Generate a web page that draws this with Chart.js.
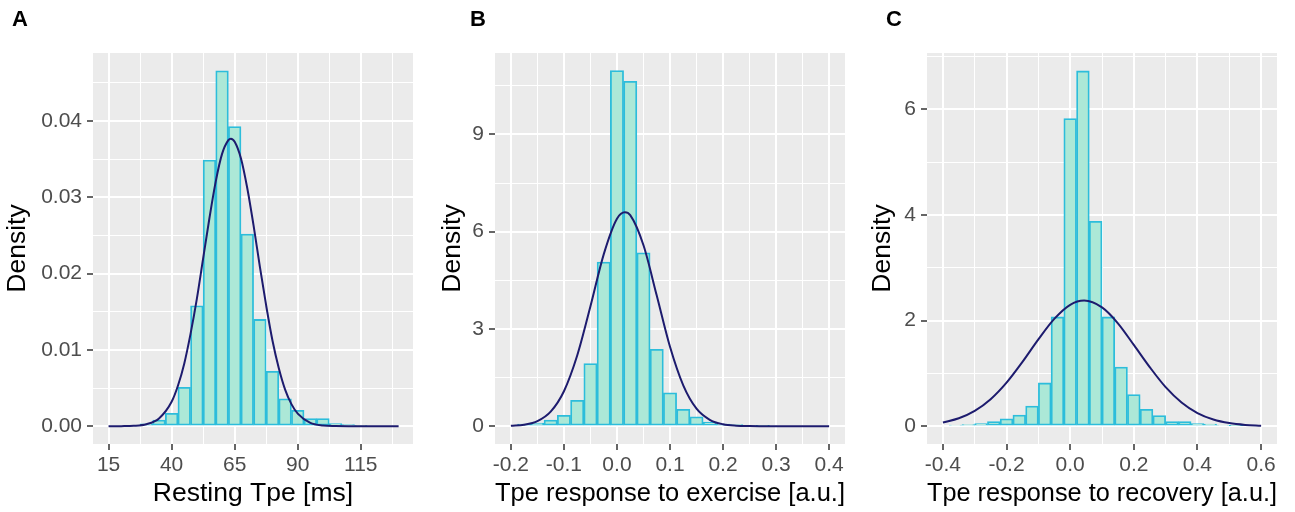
<!DOCTYPE html>
<html>
<head>
<meta charset="utf-8">
<script src="https://cdn.jsdelivr.net/npm/chart.js@4.4.0/dist/chart.umd.min.js"></script>
<style>
  body { margin: 0; background: #ffffff; }
  #wrap { position: relative; width: 1295px; height: 512px; overflow: hidden; }
  canvas { position: absolute; top: 0; }
  .tag { position: absolute; top: 8px; font: bold 22px 'Liberation Sans', Arial, sans-serif; color: #000; line-height: 22px; }
</style>
</head>
<body>
<div id="wrap">
  <canvas id="chartA" width="430" height="512" style="left:0px"></canvas>
  <canvas id="chartB" width="427" height="512" style="left:435px"></canvas>
  <canvas id="chartC" width="430" height="512" style="left:865px"></canvas>
  <div class="tag" style="left:12px">A</div>
  <div class="tag" style="left:470px">B</div>
  <div class="tag" style="left:886px">C</div>
</div>
<script>
// ---- panel A : resting Tpe ----
const binsA  = [30, 35, 40, 45, 50, 55, 60, 65, 70, 75, 80, 85, 90, 95, 100, 105, 110, 115];
const densA  = [0.0003, 0.0008, 0.0017, 0.0051, 0.0158, 0.0349, 0.0466, 0.0393, 0.0252, 0.0140,
                0.0072, 0.0036, 0.0021, 0.0010, 0.0010, 0.00035, 0.0002, 0.0001];
const curveXA = [15, 20, 25, 30, 35, 40, 42.5, 45, 47.5, 50, 52.5, 55, 57.5, 60, 62.5, 63.5, 65,
                 67.5, 70, 72.5, 75, 77.5, 80, 82.5, 85, 87.5, 90, 95, 100, 105, 110, 120, 130];
const curveYA = [0, 0.00001, 0.00005, 0.00026, 0.00102, 0.0032, 0.0053, 0.0082, 0.0121, 0.0167,
                 0.0220, 0.0273, 0.0321, 0.0357, 0.0375, 0.0377, 0.0373, 0.0351, 0.0312, 0.0263,
                 0.0209, 0.0158, 0.0112, 0.0076, 0.0048, 0.0029, 0.00166, 0.00045, 0.0001,
                 0.00002, 0, 0, 0];
const xMajorA = [15, 40, 65, 90, 115];
const xLabelsA = ['15', '40', '65', '90', '115'];
const xMinorA = [27.5, 52.5, 77.5, 102.5, 127.5];
const yMajorA = [0, 0.01, 0.02, 0.03, 0.04];
const yLabelsA = ['0.00', '0.01', '0.02', '0.03', '0.04'];
const yMinorA = [0.005, 0.015, 0.025, 0.035, 0.045];

// ---- panel B : response to exercise ----
const binsB = [-0.175, -0.15, -0.125, -0.1, -0.075, -0.05, -0.025, 0, 0.025, 0.05, 0.075, 0.1,
               0.125, 0.15, 0.175, 0.2, 0.225, 0.25, 0.275];
const densB = [0.07, 0.10, 0.19, 0.34, 0.80, 1.93, 5.06, 10.97, 10.64, 5.35, 2.37, 1.03,
               0.52, 0.29, 0.13, 0.07, 0.05, 0.03, 0.02];
const curveXB = [-0.2, -0.175, -0.15, -0.125, -0.1, -0.075, -0.05, -0.025, 0, 0.015, 0.025, 0.05,
                 0.075, 0.1, 0.125, 0.15, 0.175, 0.2, 0.225, 0.25, 0.275, 0.3, 0.35, 0.4];
const curveYB = [0.012, 0.047, 0.158, 0.45, 1.08, 2.18, 3.70, 5.30, 6.40, 6.60, 6.51, 5.58,
                 4.03, 2.45, 1.26, 0.54, 0.198, 0.06, 0.016, 0.004, 0.001, 0, 0, 0];
const xMajorB = [-0.2, -0.1, 0, 0.1, 0.2, 0.3, 0.4];
const xLabelsB = ['-0.2', '-0.1', '0.0', '0.1', '0.2', '0.3', '0.4'];
const xMinorB = [-0.15, -0.05, 0.05, 0.15, 0.25, 0.35];
const yMajorB = [0, 3, 6, 9];
const yLabelsB = ['0', '3', '6', '9'];
const yMinorB = [1.5, 4.5, 7.5, 10.5];

// ---- panel C : response to recovery ----
const binsC = [-0.36, -0.32, -0.28, -0.24, -0.2, -0.16, -0.12, -0.08, -0.04, 0, 0.04, 0.08,
               0.12, 0.16, 0.2, 0.24, 0.28, 0.32, 0.36, 0.4, 0.44, 0.48, 0.52, 0.56];
const densC = [0.02, 0.03, 0.05, 0.09, 0.14, 0.21, 0.38, 0.82, 2.07, 5.83, 6.73, 3.88,
               2.07, 1.12, 0.60, 0.32, 0.20, 0.09, 0.09, 0.05, 0.04, 0.02, 0.01, 0.01];
const curveXC = [-0.4, -0.35, -0.3, -0.25, -0.2, -0.15, -0.1, -0.05, 0, 0.044, 0.1, 0.15, 0.2,
                 0.25, 0.3, 0.35, 0.4, 0.45, 0.5, 0.55, 0.6];
const curveYC = [0.071, 0.150, 0.290, 0.511, 0.825, 1.218, 1.645, 2.033, 2.30, 2.38, 2.25, 1.95,
                 1.54, 1.12, 0.74, 0.45, 0.249, 0.127, 0.059, 0.025, 0.010];
const xMajorC = [-0.4, -0.2, 0, 0.2, 0.4, 0.6];
const xLabelsC = ['-0.4', '-0.2', '0.0', '0.2', '0.4', '0.6'];
const xMinorC = [-0.3, -0.1, 0.1, 0.3, 0.5];
const yMajorC = [0, 2, 4, 6];
const yLabelsC = ['0', '2', '4', '6'];
const yMinorC = [1, 3, 5, 7];

Chart.defaults.font.family = "'Liberation Sans', Arial, sans-serif";

const panelBg = {
  id: 'panelBg',
  beforeDraw(chart) {
    const { ctx, chartArea: a } = chart;
    ctx.save();
    ctx.fillStyle = '#ebebeb';
    ctx.fillRect(a.left, a.top, a.right - a.left, a.bottom - a.top);
    ctx.restore();
  }
};

function axis(major, labels, minor, range, title, size, horizontal) {
  const all = major.concat(minor).sort((a, b) => a - b);
  const idx = v => major.findIndex(m => Math.abs(m - v) < 1e-9);
  return {
    type: 'linear',
    min: range[0],
    max: range[1],
    offset: false,
    afterBuildTicks: s => { s.ticks = all.map(v => ({ value: v })); },
    afterFit: s => { if (horizontal) s.height = size; else s.width = size; },
    border: { display: false },
    grid: {
      offset: false,
      color: '#ffffff',
      lineWidth: c => idx(c.tick.value) >= 0 ? 2 : 1,
      tickColor: c => idx(c.tick.value) >= 0 ? '#333333' : 'rgba(0,0,0,0)',
      tickLength: 6,
      tickWidth: 1.5
    },
    ticks: {
      autoSkip: false,
      maxRotation: 0,
      padding: horizontal ? 3 : 5,
      color: '#4d4d4d',
      font: { size: 21 },
      callback: v => { const i = idx(v); return i < 0 ? '' : labels[i]; }
    },
    title: {
      display: true,
      text: title,
      color: '#000000',
      font: { size: 26.5 },
      padding: horizontal ? { top: 0, bottom: 2 } : { top: 2, bottom: 0 }
    }
  };
}

function makePanel(id, bins, dens, cx, cy, xAxis, yAxis, padRight) {
  new Chart(document.getElementById(id), {
    type: 'bar',
    data: {
      datasets: [
        {
          type: 'line',
          order: 0,
          data: cx.map((x, i) => ({ x: x, y: cy[i] })),
          borderColor: '#1d1b6e',
          borderWidth: 2,
          pointRadius: 0,
          cubicInterpolationMode: 'monotone',
          fill: false
        },
        {
          type: 'bar',
          order: 1,
          data: bins.map((x, i) => ({ x: x, y: dens[i] })),
          backgroundColor: '#ace8d7',
          borderColor: '#2cbddb',
          borderWidth: 1.8,
          borderSkipped: false,
          barPercentage: 1,
          categoryPercentage: 1
        }
      ]
    },
    options: {
      responsive: false,
      animation: false,
      devicePixelRatio: 1,
      layout: { padding: { top: 53, right: padRight, left: 0, bottom: 0 } },
      plugins: { legend: { display: false }, tooltip: { enabled: false } },
      scales: { x: xAxis, y: yAxis }
    },
    plugins: [panelBg]
  });
}

makePanel('chartA', binsA, densA, curveXA, curveYA,
  axis(xMajorA, xLabelsA, xMinorA, [8.83, 135.7], 'Resting Tpe [ms]', 68, true),
  axis(yMajorA, yLabelsA, yMinorA, [-0.00233, 0.04893], 'Density', 93, false), 17);

makePanel('chartB', binsB, densB, curveXB, curveYB,
  axis(xMajorB, xLabelsB, xMinorB, [-0.23, 0.43], 'Tpe response to exercise [a.u.]', 68, true),
  axis(yMajorB, yLabelsB, yMinorB, [-0.548, 11.51], 'Density', 60, false), 17);

makePanel('chartC', binsC, densC, curveXC, curveYC,
  axis(xMajorC, xLabelsC, xMinorC, [-0.45, 0.65], 'Tpe response to recovery [a.u.]', 68, true),
  axis(yMajorC, yLabelsC, yMinorC, [-0.337, 7.07], 'Density', 62, false), 18);
</script>
</body>
</html>
